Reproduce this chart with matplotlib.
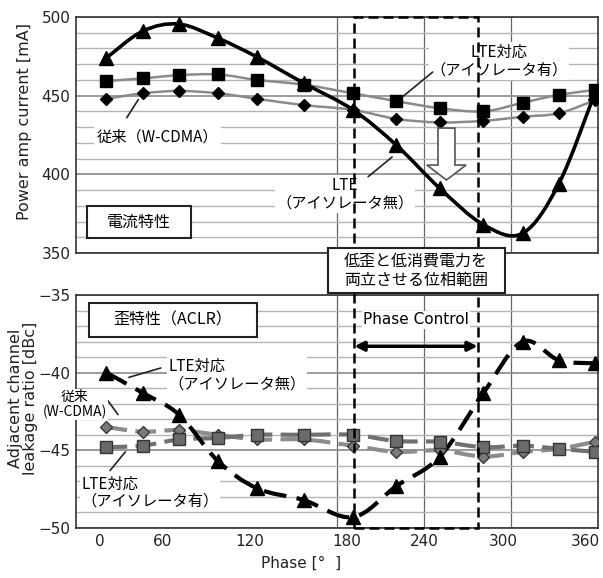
import numpy as np
import matplotlib
matplotlib.use('Agg')
import matplotlib.pyplot as plt
from matplotlib.path import Path
from matplotlib.patches import PathPatch, Rectangle, FancyArrow

plt.rcParams['font.family'] = ['DejaVu Sans', 'Noto Sans CJK JP']
JP = ['Noto Sans CJK JP', 'DejaVu Sans']

# phase of each measurement point [deg]
phase = [21, 46, 71, 98, 125, 157, 191, 221, 251, 281, 308, 333, 358]

# power amp current [mA]
cur_lte = [474, 491, 495.5, 486.5, 474.5, 458, 441, 418.5, 391, 368, 362.5, 394, 452]
cur_lte_iso = [459.3, 461, 463, 463.5, 460, 457, 451.5, 446.5, 442, 440, 445.5, 450.5, 453.6]
cur_wcdma = [448, 451.5, 453, 451.5, 448, 444, 441, 435.2, 433, 434, 436.6, 438.8, 447.2]

# adjacent channel leakage ratio [dBc]
aclr_lte = [-40.0, -41.3, -42.7, -45.7, -47.45, -48.2, -49.3, -47.3, -45.4, -41.3, -38.0, -39.2, -39.4]
aclr_lte_iso = [-44.8, -44.7, -44.3, -44.2, -44.0, -44.0, -44.0, -44.4, -44.45, -44.8, -44.7, -44.9, -45.1]
aclr_wcdma = [-43.5, -43.8, -43.7, -44.0, -44.3, -44.3, -44.7, -45.1, -45.0, -45.4, -45.1, -44.9, -44.45]

# phase range where low distortion and low current coexist
phase_lo, phase_hi = 192, 277

xtick_pos = [16.5, 60, 120, 187, 240.5, 294.5, 351.5]
xtick_labels = ['0', '60', '120', '180', '240', '300', '360']


def smooth_path(xs, ys):
    """Catmull-Rom curve through the points, as cubic bezier segments."""
    pts = np.column_stack([xs, ys]).astype(float)
    n = len(pts)
    verts = [pts[0]]
    codes = [Path.MOVETO]
    for i in range(n - 1):
        p0 = pts[max(i - 1, 0)]
        p1 = pts[i]
        p2 = pts[i + 1]
        p3 = pts[min(i + 2, n - 1)]
        verts += [p1 + (p2 - p0) / 6, p2 - (p3 - p1) / 6, p2]
        codes += [Path.CURVE4] * 3
    return Path(verts, codes)


def curve(ax, xs, ys, color, lw, ls='-', zorder=3):
    ax.add_patch(PathPatch(smooth_path(xs, ys), fill=False, edgecolor=color,
                           lw=lw, linestyle=ls, capstyle='butt', zorder=zorder))


def style_axes(ax, ymin, ymax, ystep, yminor):
    ax.set_xlim(0, 360)
    ax.set_ylim(ymin, ymax)
    ax.set_xticks(xtick_pos)
    ax.set_xticks(np.arange(60, 360, 60), minor=True)
    ax.set_yticks(np.arange(ymin, ymax + 0.1, ystep))
    ax.set_yticks(np.arange(ymin, ymax + 0.1, yminor), minor=True)
    ax.grid(which='minor', axis='x', color='#666666', lw=0.9, zorder=1)
    ax.grid(which='minor', axis='y', color='#b4b4b4', lw=1.0, zorder=1)
    ax.grid(which='major', axis='y', color='#8a8a8a', lw=1.2, zorder=1)
    ax.tick_params(which='both', length=0, labelsize=11, colors='#222222', pad=4)
    for s in ax.spines.values():
        s.set_color('#333333')
        s.set_linewidth(1.2)


def leader(ax, start, end):
    ax.annotate('', xy=end, xytext=start,
                arrowprops=dict(arrowstyle='-', color='#222222', lw=1.2,
                                shrinkA=0, shrinkB=0), zorder=6)


fig = plt.figure(figsize=(6.03, 5.78), dpi=100)
ax1 = fig.add_axes([0.126, 0.5623, 0.8657, 0.4083])
ax2 = fig.add_axes([0.126, 0.0865, 0.8657, 0.4031])

# ---- current characteristics
style_axes(ax1, 350, 500, 50, 10)
ax1.set_xticklabels([])
curve(ax1, phase, cur_lte_iso, '#8a8a8a', 1.8)
curve(ax1, phase, cur_wcdma, '#8a8a8a', 1.8)
curve(ax1, phase, cur_lte, 'black', 2.6, zorder=4)
ax1.plot(phase, cur_lte_iso, 's', ms=8.5, color='black', zorder=5)
ax1.plot(phase, cur_wcdma, 'D', ms=6, color='black', zorder=5)
ax1.plot(phase, cur_lte, '^', ms=9.5, color='black', zorder=5)

ax1.text(292, 472, 'LTE対応\n（アイソレータ有）', family=JP, fontsize=11,
         ha='center', va='center', linespacing=1.05, zorder=6,
         bbox=dict(fc='white', ec='none', pad=1))
leader(ax1, (246, 465), (225.5, 449.5))

ax1.text(56, 423.7, '従来（W-CDMA）', family=JP, fontsize=11,
         ha='center', va='center', zorder=6,
         bbox=dict(fc='white', ec='none', pad=2))
leader(ax1, (35, 436), (43, 447.5))

ax1.text(185.5, 387.5, 'LTE\n（アイソレータ無）', family=JP, fontsize=11,
         ha='center', va='center', linespacing=1.05, zorder=6,
         bbox=dict(fc='white', ec='none', pad=1))
leader(ax1, (201.5, 398.5), (218, 411))

# hollow arrow: current drops
ax1.add_patch(FancyArrow(255.5, 429.4, 0, -33, width=11.7, head_width=27,
                         head_length=9.5, length_includes_head=True,
                         fc='white', ec='#555555', lw=1.2, zorder=6))

ax1.add_patch(Rectangle((0.021, 0.064), 0.199, 0.135, transform=ax1.transAxes,
                        fc='white', ec='#222222', lw=1.5, zorder=6))
ax1.text(0.1205, 0.1315, '電流特性', transform=ax1.transAxes, family=JP,
         fontsize=11.5, ha='center', va='center', zorder=7)

# ---- distortion characteristics
style_axes(ax2, -50, -35, 5, 1)
ax2.set_xticklabels(xtick_labels)
curve(ax2, phase, aclr_wcdma, '#8c8c8c', 3, ls=(0, (5, 2)))
curve(ax2, phase, aclr_lte_iso, '#707070', 3, ls=(0, (5, 2)))
curve(ax2, phase, aclr_lte, 'black', 3, ls=(0, (5.5, 2.5)), zorder=4)
ax2.plot(phase, aclr_wcdma, 'D', ms=6.5, mfc='#7a7a7a', mec='#3a3a3a', mew=1, zorder=5)
ax2.plot(phase, aclr_lte_iso, 's', ms=8.5, mfc='#6a6a6a', mec='#333333', mew=1, zorder=5)
ax2.plot(phase, aclr_lte, '^', ms=9.5, color='black', zorder=5)

ax2.add_patch(Rectangle((0.025, 0.82), 0.322, 0.146, transform=ax2.transAxes,
                        fc='white', ec='#222222', lw=1.5, zorder=6))
ax2.text(0.186, 0.893, '歪特性（ACLR）', transform=ax2.transAxes, family=JP,
         fontsize=11.5, ha='center', va='center', zorder=7)

ax2.text(63.5, -40.15, 'LTE対応\n（アイソレータ無）', family=JP, fontsize=11,
         ha='left', va='center', linespacing=1.05, zorder=6,
         bbox=dict(fc='white', ec='none', pad=1))
leader(ax2, (58.5, -39.7), (36.5, -40.3))

ax2.text(-0.7, -42.05, '従来\n(W-CDMA)', family=JP, fontsize=10,
         ha='center', va='center', linespacing=1.0, zorder=7, clip_on=False,
         bbox=dict(fc='white', ec='none', pad=1))
leader(ax2, (22, -41.8), (29, -42.7))

ax2.text(3.5, -47.72, 'LTE対応\n（アイソレータ有）', family=JP, fontsize=11,
         ha='left', va='center', linespacing=1.05, zorder=6,
         bbox=dict(fc='white', ec='none', pad=1))
leader(ax2, (23.5, -46.3), (34, -45.1))

ax2.text((phase_lo + phase_hi) / 2, -36.6, 'Phase Control', fontsize=11,
         ha='center', va='center', zorder=6,
         bbox=dict(fc='white', ec='none', pad=1))
ax2.annotate('', xy=(phase_hi, -38.3), xytext=(phase_lo, -38.3),
             arrowprops=dict(arrowstyle='<|-|>', color='black', lw=2.5,
                             mutation_scale=14, shrinkA=0, shrinkB=0), zorder=6)

# dashed frame for the phase-control range across both panels
fig.canvas.draw()
to_fig = fig.transFigure.inverted()
x0, y_top = to_fig.transform(ax1.transData.transform((phase_lo, 500)))
x1, y_bot = to_fig.transform(ax2.transData.transform((phase_hi, -50)))
fig.add_artist(Rectangle((x0, y_bot), x1 - x0, y_top - y_bot, transform=fig.transFigure,
                         fill=False, ec='black', lw=1.8, ls=(0, (4, 2)), zorder=2))

# box bridging the two panels
fig.add_artist(Rectangle((0.5434, 0.4926), 0.2941, 0.0778, transform=fig.transFigure,
                         fc='white', ec='#222222', lw=1.5, zorder=3))
fig.text(0.69, 0.5311, '低歪と低消費電力を\n両立させる位相範囲', family=JP,
         fontsize=11.5, ha='center', va='center', linespacing=1.15, zorder=4)

# axis titles
fig.text(0.041, 0.79, 'Power amp current [mA]', rotation=90, fontsize=11.5,
         ha='center', va='center', color='#222222')
fig.text(0.038, 0.311, 'Adjacent channel\nleakage ratio [dBc]', rotation=90,
         fontsize=11.5, ha='center', va='center', linespacing=0.95, color='#222222')
fig.text(0.5, 0.026, 'Phase [°  ]', fontsize=11, ha='center', va='center',
         color='#222222')

fig.savefig('out.png', dpi=100)
